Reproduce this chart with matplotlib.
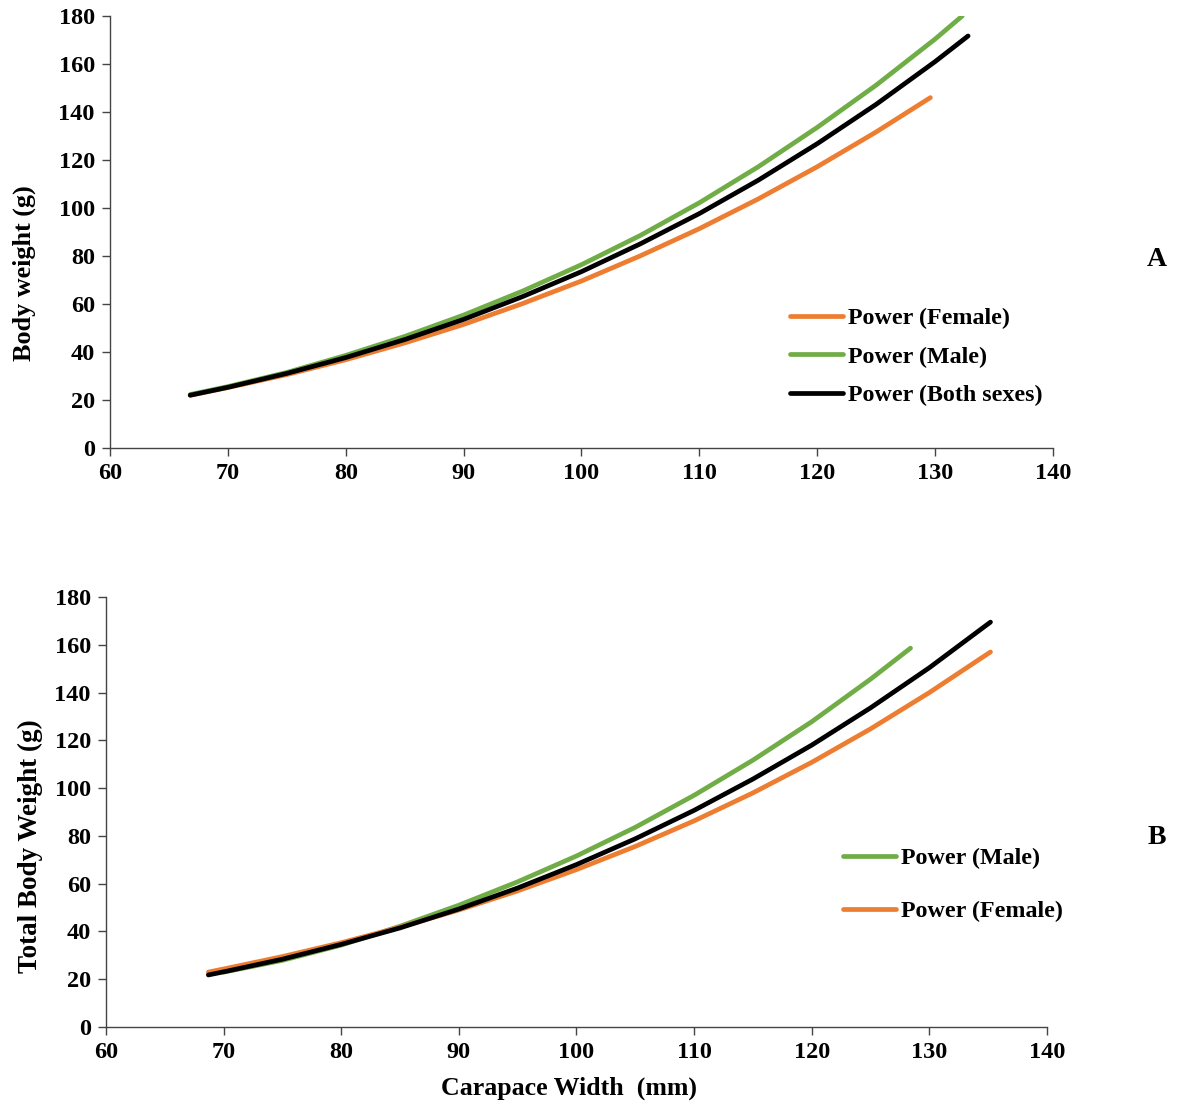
import matplotlib
matplotlib.use("Agg")
import matplotlib.pyplot as plt

# panel A - body weight vs carapace width
a_female_x = [66.8, 70, 75, 80, 85, 90, 95, 100, 105, 110, 115, 120, 125, 129.6]
a_female_y = [22.0, 25.2, 30.6, 36.8, 43.8, 51.5, 60.2, 69.6, 80.1, 91.4, 103.8, 117.2, 131.7, 146.0]

a_male_x = [66.8, 70, 75, 80, 85, 90, 95, 100, 105, 110, 115, 120, 125, 130, 132.3]
a_male_y = [22.3, 25.6, 31.5, 38.6, 46.5, 55.4, 65.4, 76.4, 88.6, 102.2, 117.2, 133.6, 151.2, 170.4, 180.0]

a_both_x = [66.8, 70, 75, 80, 85, 90, 95, 100, 105, 110, 115, 120, 125, 130, 132.8]
a_both_y = [22.0, 25.3, 31.1, 37.7, 45.2, 53.6, 63.1, 73.5, 85.1, 97.7, 111.6, 126.8, 143.2, 161.0, 171.7]

# panel B - total body weight vs carapace width
b_male_x = [70, 75, 80, 85, 90, 95, 100, 105, 110, 115, 120, 125, 128.4]
b_male_y = [23.0, 27.9, 34.3, 42.2, 51.0, 60.8, 71.6, 83.6, 97.0, 111.7, 127.8, 145.6, 158.6]

b_female_x = [68.7, 70, 75, 80, 85, 90, 95, 100, 105, 110, 115, 120, 125, 130, 135.2]
b_female_y = [23.0, 24.3, 29.5, 35.3, 41.8, 49.0, 57.0, 65.9, 75.6, 86.3, 98.0, 110.8, 124.8, 140.0, 157.0]

b_both_x = [68.7, 70, 75, 80, 85, 90, 95, 100, 105, 110, 115, 120, 125, 130, 135.2]
b_both_y = [21.8, 23.1, 28.4, 34.6, 41.5, 49.4, 58.2, 68.0, 78.8, 90.7, 103.8, 118.0, 133.6, 150.4, 169.5]

x_ticks = [60, 70, 80, 90, 100, 110, 120, 130, 140]
y_ticks = [0, 20, 40, 60, 80, 100, 120, 140, 160, 180]

orange = "#ED7D31"
green = "#70AD47"
black = "#000000"

plt.rcParams['font.family'] = ['Liberation Serif', 'DejaVu Serif']
plt.rcParams['font.weight'] = 'bold'

fig = plt.figure(figsize=(11.77, 11.06), dpi=100)
axA = fig.add_axes([0.0935, 0.5949, 0.8011, 0.3906])
axB = fig.add_axes([0.0901, 0.0714, 0.7994, 0.3888])


def style_axis(ax):
    ax.set_xlim(60, 140)
    ax.set_ylim(0, 180)
    ax.set_xticks(x_ticks)
    ax.set_yticks(y_ticks)
    ax.spines['top'].set_visible(False)
    ax.spines['right'].set_visible(False)
    for s in ['left', 'bottom']:
        ax.spines[s].set_color('#444444')
        ax.spines[s].set_linewidth(1.0)
    ax.tick_params(direction='out', length=6, width=1.0, color='#444444',
                   labelsize=17.5, pad=5)
    for lab in ax.get_xticklabels() + ax.get_yticklabels():
        lab.set_fontweight('bold')


lw = 3.4
axA.plot(a_female_x, a_female_y, color=orange, lw=lw, solid_capstyle='round', label='Power (Female)')
axA.plot(a_male_x, a_male_y, color=green, lw=lw, solid_capstyle='round', label='Power (Male)')
axA.plot(a_both_x, a_both_y, color=black, lw=lw, solid_capstyle='round', label='Power (Both sexes)')
style_axis(axA)

axB.plot(b_male_x, b_male_y, color=green, lw=lw, solid_capstyle='round', label='Power (Male)')
axB.plot(b_female_x, b_female_y, color=orange, lw=lw, solid_capstyle='round', label='Power (Female)')
axB.plot(b_both_x, b_both_y, color=black, lw=lw, solid_capstyle='round', label='Power (Both sexes)')
style_axis(axB)

hA, lA = axA.get_legend_handles_labels()
fig.legend(hA, lA, loc='upper left', bbox_to_anchor=(0.671, 0.7222), frameon=False,
           prop={'size': 17.3, 'weight': 'bold'}, handlelength=2.2, handletextpad=0.22,
           labelspacing=0.70, borderpad=0, borderaxespad=0)

hB, lB = axB.get_legend_handles_labels()
fig.legend(hB[:2], lB[:2], loc='upper left', bbox_to_anchor=(0.7162, 0.2337), frameon=False,
           prop={'size': 17.3, 'weight': 'bold'}, handlelength=2.2, handletextpad=0.22,
           labelspacing=1.30, borderpad=0, borderaxespad=0)

fig.text(24 / 1177, 1 - 273 / 1106, 'Body weight (g)', rotation=90, ha='center', va='center',
         fontsize=18.8, fontweight='bold')
fig.text(30 / 1177, 1 - 846 / 1106, 'Total Body Weight (g)', rotation=90, ha='center', va='center',
         fontsize=19.5, fontweight='bold')
fig.text(569 / 1177, 1 - 1088 / 1106, 'Carapace Width  (mm)', ha='center', va='center',
         fontsize=18.6, fontweight='bold')
fig.text(1157 / 1177, 1 - 260 / 1106, 'A', ha='center', va='center', fontsize=20, fontweight='bold')
fig.text(1157 / 1177, 1 - 838 / 1106, 'B', ha='center', va='center', fontsize=20, fontweight='bold')

fig.savefig('out.png', dpi=100)
